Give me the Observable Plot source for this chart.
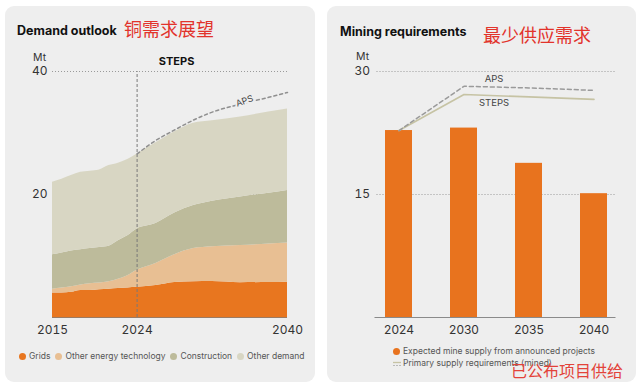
<!DOCTYPE html>
<html><head><meta charset="utf-8">
<script src="https://cdn.jsdelivr.net/npm/d3@7"></script>
<script src="https://cdn.jsdelivr.net/npm/@observablehq/plot@0.6"></script>
<style>
body{margin:0;background:#fff;font-family:Inter,"Noto Sans",sans-serif;}
#page{position:relative;width:640px;height:385px;overflow:hidden;background:#fff;}
.card{position:absolute;top:6px;height:376px;background:#eeeeee;border-radius:9px;}
.title{position:absolute;font-weight:700;font-size:12.5px;line-height:16px;color:#111;white-space:nowrap;}
.cn{position:absolute;font-size:18px;line-height:22px;color:#e2332b;font-family:"Noto Sans CJK SC",sans-serif;white-space:nowrap;}
.plot{position:absolute;top:50px;}
.unit{position:absolute;font-size:10.5px;line-height:12px;color:#333;}
.leg{position:absolute;font-size:8.5px;line-height:11px;color:#555;white-space:nowrap;display:flex;align-items:center;}
.leg .dot{display:inline-block;width:7px;height:7px;border-radius:50%;margin-right:3px;}
.leg .item{display:flex;align-items:center;margin-right:5px;}
</style></head>
<body>
<div id="page">
  <div class="card" style="left:5px;width:310px"></div>
  <div class="card" style="left:327px;width:309px"></div>
  <div class="title" style="left:17px;top:23px">Demand outlook</div>
  <div class="cn" style="left:124px;top:17px">铜需求展望</div>
  <div class="title" style="left:340px;top:24px">Mining requirements</div>
  <div class="cn" style="left:483px;top:23px">最少供应需求</div>
  <div class="unit" style="left:33px;top:52px">Mt</div>
  <div class="unit" style="left:356px;top:51px">Mt</div>
  <div id="left" class="plot" style="left:0px"></div>
  <div id="right" class="plot" style="left:320px"></div>
  <div id="legL" class="leg" style="left:19px;top:351px"></div>
  <div id="legR1" class="leg" style="left:393px;top:346px"></div>
  <div id="legR2" class="leg" style="left:393px;top:358px"></div>
  <div class="cn" style="left:511px;top:359px;font-size:16px;color:#e3433a">已公布项目供给</div>
</div>
<script>
// ---- Demand outlook (STEPS), Mt ----
const years = [2015,2016,2017,2018,2019,2020,2021,2022,2023,2024,2026,2028,2030,2032,2035,2038,2040];
const grids        = [4.0,4.0,4.1,4.4,4.4,4.5,4.6,4.7,4.8,4.9,5.2,5.7,5.8,5.85,5.65,5.7,5.75];
const otherEnergy  = [0.6,0.8,0.9,0.9,1.1,1.1,1.2,1.5,2.0,2.8,3.6,4.5,5.4,5.65,6.05,6.25,6.35];
const construction = [5.6,5.7,5.8,5.7,5.7,5.8,5.8,6.3,6.5,6.7,6.5,6.8,7.0,7.4,7.9,8.25,8.55];
const otherDemand  = [11.8,12.0,12.3,12.6,12.6,12.6,13.1,12.6,12.4,12.2,13.1,13.2,13.4,13.1,13.0,13.2,13.25];
const categories = ["Grids","Other energy technology","Construction","Other demand"];
const colors = ["#e8761f","#e8bf93","#bdbb9b","#d8d6c3"];
const apsYears = [2024,2026,2028,2030,2032,2035,2038,2040];
const apsTotal = [26.6,28.8,30.5,32.1,33.4,34.7,35.8,36.6];
const xTicksL = [2015,2024,2040];

// ---- Mining requirements, Mt ----
const mineYears = ["2024","2030","2035","2040"];
const expectedSupply = [22.8,23.1,18.8,15.1];
const stepsReq = [22.8,27.2,26.9,26.6];
const apsReq = [22.8,28.2,28.0,27.7];

const series = [grids, otherEnergy, construction, otherDemand];
const demand = categories.flatMap((c,i)=>years.map((y,j)=>({year:y, category:c, value:series[i][j]})));
const aps = apsYears.map((y,i)=>({year:y, value:apsTotal[i]}));
const mine = mineYears.map((y,i)=>({year:y, supply:expectedSupply[i], steps:stepsReq[i], aps:apsReq[i]}));

const svgStyle = {background:"transparent", overflow:"visible", fontFamily:"Inter, 'Noto Sans', sans-serif", fontSize:"12px", color:"#333"};

const left = Plot.plot({
  width:320, height:300, marginLeft:52, marginRight:33, marginTop:21, marginBottom:33,
  style: svgStyle,
  x:{domain:[2015,2040], ticks:xTicksL, tickFormat:d=>String(d), tickSize:0, tickPadding:8, label:null},
  y:{domain:[0,40], ticks:[20,40], tickSize:0, tickPadding:5, label:null},
  color:{domain:categories, range:colors},
  marks:[
    Plot.ruleY([20,40],{stroke:"#9a9a9a", strokeDasharray:"1,2"}),
    Plot.areaY(demand,{x:"year", y:"value", fill:"category", order:categories, curve:"monotone-x"}),
    Plot.ruleY([0],{stroke:"#9b7b63"}),
    Plot.ruleX([2024],{y1:0, y2:40, stroke:"#7a7a7a", strokeDasharray:"3,2"}),
    Plot.line(aps,{x:"year", y:"value", stroke:"#8f8f8f", strokeDasharray:"3,3", curve:"monotone-x"}),
    Plot.text(aps.filter(d=>d.year===2035),{x:"year", y:"value", text:()=>"APS", rotate:-20, dx:4, dy:-3, fontSize:9, fill:"#444", stroke:"#eeeeee", strokeWidth:4}),
    Plot.text(["STEPS"],{x:[2028.2], y:[40], text:d=>d, dy:-10, fontSize:11, fontWeight:"bold", fill:"#111"})
  ]
});
document.getElementById("left").appendChild(left);

const right = Plot.plot({
  width:320, height:300, marginLeft:51.5, marginRight:20.5, marginTop:21, marginBottom:33,
  style: svgStyle,
  x:{domain:mineYears, paddingInner:0.585, paddingOuter:0.2, tickSize:0, tickPadding:8, label:null},
  y:{domain:[0,30], ticks:[15,30], tickSize:0, tickPadding:2, label:null},
  marks:[
    Plot.ruleY([15,30],{stroke:"#9a9a9a", strokeDasharray:"1,2", insetLeft:5, insetRight:4}),
    Plot.barY(mine,{x:"year", y:"supply", fill:"#e8731e"}),
    Plot.ruleY([0],{stroke:"#8a8a8a", insetLeft:3, insetRight:4}),
    Plot.line(mine,{x:"year", y:"steps", stroke:"#c6c3a4", strokeWidth:1.6}),
    Plot.line(mine,{x:"year", y:"aps", stroke:"#9a9a9a", strokeDasharray:"4,3"}),
    Plot.text(mine.filter(d=>d.year==="2030"),{x:"year", y:"aps", text:()=>"APS", dx:30, dy:-7, fontSize:9.5, fill:"#444"}),
    Plot.text(mine.filter(d=>d.year==="2030"),{x:"year", y:"steps", text:()=>"STEPS", dx:30, dy:8, fontSize:9.5, fill:"#444"})
  ]
});
document.getElementById("right").appendChild(right);

// legends
const legL = document.getElementById("legL");
categories.forEach((c,i)=>{
  const it = document.createElement("span"); it.className="item";
  it.innerHTML = `<span class="dot" style="background:${colors[i]}"></span>${c}`;
  legL.appendChild(it);
});
document.getElementById("legR1").innerHTML = `<span class="dot" style="background:#e8731e"></span>Expected mine supply from announced projects`;
document.getElementById("legR2").innerHTML = `<svg width="10" height="8" style="margin-right:0px"><line x1="0" x2="8" y1="2.5" y2="2.5" stroke="#c6c3a4" stroke-width="1.3"/><line x1="0" x2="8" y1="5.5" y2="5.5" stroke="#b9b9b9" stroke-width="1" stroke-dasharray="2,1"/></svg>Primary supply requirements (mined)`;
</script>
</body></html>
